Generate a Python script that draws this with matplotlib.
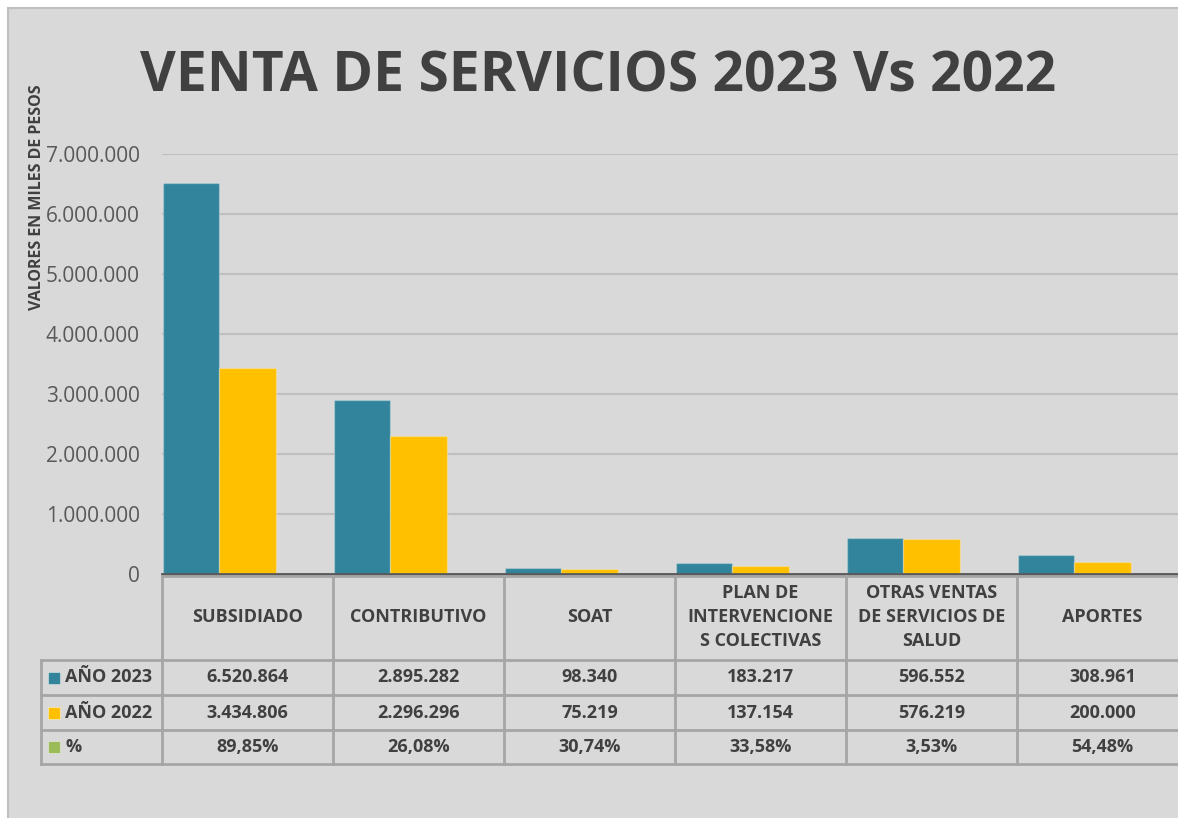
import matplotlib
matplotlib.use("Agg")
import matplotlib.pyplot as plt
from matplotlib.patches import Rectangle
from matplotlib.lines import Line2D
from matplotlib.transforms import blended_transform_factory
import numpy as np

plt.rcParams['font.family'] = ['Open Sans', 'DejaVu Sans']

categories = ["SUBSIDIADO", "CONTRIBUTIVO", "SOAT",
              "PLAN DE\nINTERVENCIONE\nS COLECTIVAS",
              "OTRAS VENTAS\nDE SERVICIOS DE\nSALUD", "APORTES"]
series_names = ["AÑO 2023", "AÑO 2022", "%"]
ventas_2023 = [6520864, 2895282, 98340, 183217, 596552, 308961]
ventas_2022 = [3434806, 2296296, 75219, 137154, 576219, 200000]
variacion_pct = [89.85, 26.08, 30.74, 33.58, 3.53, 54.48]
yticks = [0, 1000000, 2000000, 3000000, 4000000, 5000000, 6000000, 7000000]

colors = ["#31849B", "#FFC000", "#9BBB59"]
bg = "#D9D9D9"
text_c = "#404040"
line_c = "#A6A6A6"

W, H = 1178, 818
fig = plt.figure(figsize=(W / 100, H / 100), dpi=100, facecolor="white")

def fx(px):
    return px / W

def fy(py):
    return 1 - py / H

# chart frame
fig.patches.append(Rectangle((fx(8), fy(830)), fx(1200) - fx(8), fy(8) - fy(830),
                             transform=fig.transFigure, facecolor=bg,
                             edgecolor="#BFBFBF", linewidth=1.5, zorder=-5))

ax_left, ax_right = 162, 1188
ax_top, ax_bottom = 154, 574
ax = fig.add_axes([fx(ax_left), fy(ax_bottom), fx(ax_right) - fx(ax_left), fy(ax_top) - fy(ax_bottom)])
ax.set_facecolor("none")
ax.set_zorder(2)

n = len(categories)
x = np.arange(n)
w = 0.328
series = [ventas_2023, ventas_2022, [v / 100 for v in variacion_pct]]
for i, (vals, c) in enumerate(zip(series, colors)):
    ax.bar(x + (i - 1) * w, vals, width=w, color=c, edgecolor=(1, 1, 1, 0.25),
           linewidth=1, zorder=3)

ax.set_xlim(-0.5, n - 0.5)
ax.set_ylim(0, 7000000)
ax.set_yticks(yticks)
ax.set_yticklabels([f"{v:,}".replace(",", ".") for v in yticks], fontsize=15, color="#595959")
ax.tick_params(axis="y", length=0, pad=16)
ax.set_xticks([])
ax.grid(axis="y", color="#BFBFBF", linewidth=1.5, zorder=0)
for s in ["top", "right", "left"]:
    ax.spines[s].set_visible(False)
ax.spines["bottom"].set_color("#595959")
ax.spines["bottom"].set_linewidth(2)
ax.spines["bottom"].set_zorder(4)

# y axis title
fig.text(fx(37), fy(197), "VALORES EN MILES DE PESOS", rotation=90, ha="center", va="center",
         fontsize=11.5, fontweight="bold", color=text_c)

# chart title
fig.text(fx(598), fy(91), "VENTA DE SERVICIOS 2023 Vs 2022", ha="center", va="baseline",
         fontsize=39.7, fontweight="bold", color=text_c)

# data table
bt = blended_transform_factory(ax.transData, fig.transFigure)
row_y = [576, 660, 695, 730, 764]
lw = 2
# horizontal lines
fig.lines.append(Line2D([fx(162), fx(1200)], [fy(576), fy(576)], transform=fig.transFigure,
                        color=line_c, linewidth=lw))
for ry in row_y[1:]:
    fig.lines.append(Line2D([fx(41), fx(1200)], [fy(ry), fy(ry)], transform=fig.transFigure,
                            color=line_c, linewidth=lw))
# vertical lines
for b in np.arange(-0.5, n + 0.5, 1.0):
    fig.lines.append(Line2D([b, b], [fy(576), fy(764)], transform=bt, color=line_c, linewidth=lw))
fig.lines.append(Line2D([fx(41), fx(41)], [fy(660), fy(764)], transform=fig.transFigure,
                        color=line_c, linewidth=lw))

# header cells
for i, cat in enumerate(categories):
    fig.text(i, fy(617), cat, transform=bt, ha="center", va="center", fontsize=13,
             fontweight="bold", color=text_c, linespacing=1.45)

# value rows
rows = [
    [f"{v:,}".replace(",", ".") for v in ventas_2023],
    [f"{v:,}".replace(",", ".") for v in ventas_2022],
    [f"{v:.2f}%".replace(".", ",") for v in variacion_pct],
]
for r, (name, vals, c) in enumerate(zip(series_names, rows, colors)):
    yc = (row_y[r + 1] + row_y[r + 2]) / 2
    fig.patches.append(Rectangle((fx(48), fy(yc + 6)), fx(12), fy(0) - fy(12),
                                 transform=fig.transFigure, facecolor=c,
                                 edgecolor=(1, 1, 1, 0.4), linewidth=0.8))
    fig.text(fx(65), fy(yc), name, ha="left", va="center", fontsize=13,
             fontweight="bold", color=text_c)
    for i, v in enumerate(vals):
        fig.text(i, fy(yc), v, transform=bt, ha="center", va="center", fontsize=13,
                 fontweight="bold", color=text_c)

fig.savefig("out.png", dpi=100, facecolor="white")
